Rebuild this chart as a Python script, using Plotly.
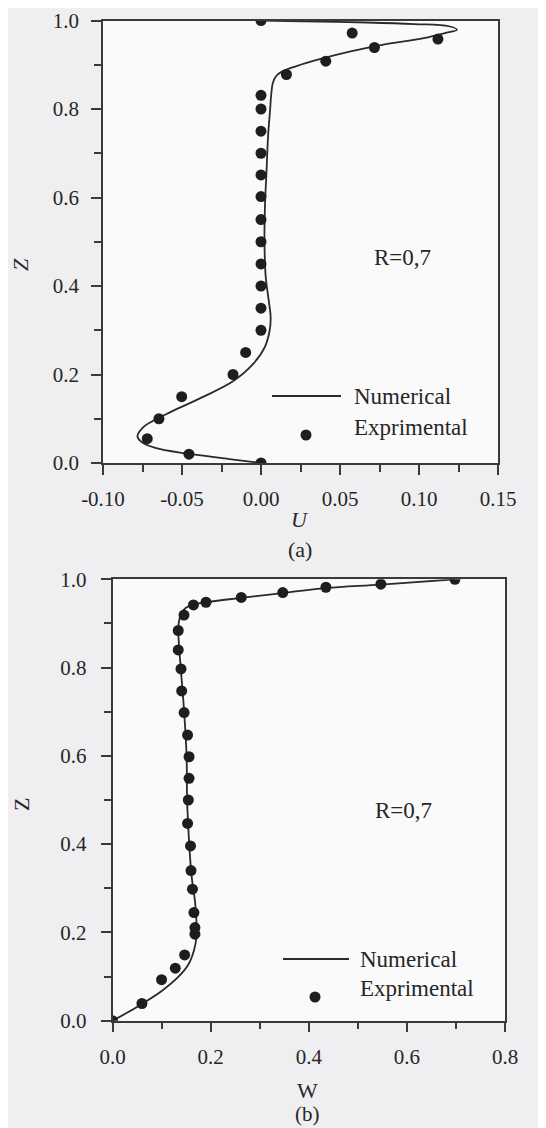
import plotly.graph_objects as go

# ---------------- data: panel (a) ----------------
u_exp = [0.0, 0.0577, 0.112, 0.0718, 0.041, 0.0161, 0.0, 0.0, 0.0, 0.0, 0.0, 0.0,
         0.0, 0.0, 0.0, 0.0, 0.0, 0.0, -0.0097, -0.0177, -0.0502, -0.0646, -0.072, -0.0456, 0.0]
z_u_exp = [1.0, 0.9715, 0.958, 0.939, 0.908, 0.878, 0.831, 0.80, 0.75, 0.70, 0.651, 0.602,
           0.55, 0.50, 0.45, 0.40, 0.35, 0.30, 0.25, 0.20, 0.15, 0.10, 0.055, 0.02, 0.0]

u_num = [0.0, -0.020, -0.0465, -0.0669, -0.0761, -0.0782, -0.0751, -0.069, -0.0567, -0.0363,
         -0.018, -0.0057, 0.0024, 0.0055, 0.0061, 0.0049, 0.0030, 0.0022, 0.0025, 0.0035,
         0.0045, 0.0058, 0.0064, 0.0075, 0.0095, 0.0135, 0.0225, 0.0366, 0.0567, 0.0768,
         0.103, 0.117, 0.124, 0.119, 0.097, 0.067, 0.0265, 0.0]
z_u_num = [0.0, 0.009, 0.021, 0.034, 0.049, 0.061, 0.079, 0.094, 0.116, 0.15,
           0.184, 0.221, 0.262, 0.30, 0.33, 0.367, 0.42, 0.50, 0.58, 0.66,
           0.74, 0.80, 0.83, 0.859, 0.874, 0.885, 0.897, 0.912, 0.93, 0.945,
           0.96, 0.972, 0.979, 0.987, 0.992, 0.9955, 0.998, 1.0]

# ---------------- data: panel (b) ----------------
w_exp = [0.698, 0.547, 0.435, 0.347, 0.2625, 0.1906, 0.165, 0.1457, 0.134, 0.134,
         0.1396, 0.141, 0.146, 0.153, 0.156, 0.156, 0.1545, 0.153, 0.159, 0.160,
         0.163, 0.166, 0.168, 0.168, 0.147, 0.128, 0.100, 0.060, 0.0]
z_w_exp = [1.0, 0.989, 0.982, 0.970, 0.959, 0.948, 0.942, 0.919, 0.884, 0.84,
           0.797, 0.747, 0.698, 0.647, 0.598, 0.549, 0.50, 0.447, 0.396, 0.340,
           0.298, 0.245, 0.211, 0.196, 0.149, 0.119, 0.093, 0.039, 0.0]

w_num = [0.0, 0.025, 0.060, 0.101, 0.133, 0.155, 0.166, 0.171, 0.171, 0.168, 0.162,
         0.157, 0.154, 0.152, 0.151, 0.146, 0.139, 0.135, 0.134, 0.137, 0.146, 0.165,
         0.19, 0.2625, 0.347, 0.435, 0.547, 0.698]
z_w_num = [0.0, 0.015, 0.038, 0.068, 0.098, 0.128, 0.159, 0.189, 0.227, 0.272, 0.32,
           0.387, 0.45, 0.50, 0.60, 0.70, 0.80, 0.86, 0.89, 0.912, 0.932, 0.943,
           0.948, 0.958, 0.969, 0.980, 0.988, 1.0]

legend_labels = ["Numerical", "Exprimental"]
panel_note = "R=0,7"

# the page body adds an 8px offset; size the figure to fill the rest of the window
OFF = 8
W, H = 538, 1120
FONT = "Liberation Serif, Times New Roman, serif"
INK = "#2a2a2a"
AX = "#3a3a3a"
TXT = "#262626"


def fx(px):
    return (px - OFF) / W


def fy(py):
    return 1 - (py - OFF) / H


fig = go.Figure()

fig.add_trace(go.Scatter(x=u_num, y=z_u_num, mode="lines",
                         line=dict(color=INK, width=1.8, shape="spline", smoothing=1.0),
                         xaxis="x", yaxis="y", showlegend=False, hoverinfo="skip"))
fig.add_trace(go.Scatter(x=u_exp, y=z_u_exp, mode="markers", marker=dict(color="#1e1e1e", size=11),
                         xaxis="x", yaxis="y", showlegend=False))
fig.add_trace(go.Scatter(x=w_num, y=z_w_num, mode="lines",
                         line=dict(color=INK, width=1.8, shape="spline", smoothing=1.0),
                         xaxis="x2", yaxis="y2", showlegend=False, hoverinfo="skip"))
fig.add_trace(go.Scatter(x=w_exp, y=z_w_exp, mode="markers", marker=dict(color="#1e1e1e", size=11),
                         xaxis="x2", yaxis="y2", showlegend=False))

axis_common = dict(
    showgrid=False, zeroline=False, showline=True, linecolor=AX, linewidth=1.5,
    mirror=True, ticks="outside", ticklen=10, tickwidth=1.5, tickcolor=AX, automargin=False,
    ticklabeloverflow="allow",
    tickfont=dict(family=FONT, size=21, color=TXT),
)
minor_x1 = dict(dtick=0.025, tick0=-0.1, ticks="outside", ticklen=7, tickwidth=1.5, tickcolor=AX)
minor_01 = dict(dtick=0.1, tick0=0, ticks="outside", ticklen=7, tickwidth=1.5, tickcolor=AX)

fig.update_layout(
    width=W, height=H,
    margin=dict(l=0, r=0, t=0, b=0, pad=0),
    paper_bgcolor="#efeff1",
    plot_bgcolor="#fafafb",
    showlegend=False,
    xaxis=dict(domain=[fx(103), fx(498)], range=[-0.10, 0.15], anchor="y",
               tickvals=[-0.10, -0.05, 0.0, 0.05, 0.10, 0.15],
               ticktext=["-0.10", "-0.05", "0.00", "0.05", "0.10", "0.15"],
               minor=minor_x1, ticklabelstandoff=6, **axis_common),
    yaxis=dict(domain=[fy(463), fy(20.5)], range=[0, 1], anchor="x",
               tickvals=[0, 0.2, 0.4, 0.6, 0.8, 1.0],
               ticktext=["0.0", "0.2", "0.4", "0.6", "0.8", "1.0"],
               minor=minor_01, ticklabelstandoff=8, **axis_common),
    xaxis2=dict(domain=[fx(112.5), fx(505)], range=[0, 0.8], anchor="y2",
                tickvals=[0, 0.2, 0.4, 0.6, 0.8],
                ticktext=["0.0", "0.2", "0.4", "0.6", "0.8"],
                minor=minor_01, ticklabelstandoff=6, **axis_common),
    yaxis2=dict(domain=[fy(1020.7), fy(579.3)], range=[0, 1], anchor="x2",
                tickvals=[0, 0.2, 0.4, 0.6, 0.8, 1.0],
                ticktext=["0.0", "0.2", "0.4", "0.6", "0.8", "1.0"],
                minor=minor_01, ticklabelstandoff=10, **axis_common),
)


def ann(text, px, py, size=22, italic=False, angle=0, xanchor="center"):
    t = f"<i>{text}</i>" if italic else text
    fig.add_annotation(text=t, x=fx(px), y=fy(py), xref="paper", yref="paper",
                       showarrow=False, xanchor=xanchor, yanchor="middle", textangle=angle,
                       font=dict(family=FONT, size=size, color=TXT))


# panel (a) labels
ann("U", 300, 520, italic=True)
ann("(a)", 300, 549)
ann("Z", 21, 265, italic=True, angle=-90)
ann(panel_note, 402, 257, size=23)
# legend (a)
fig.add_shape(type="line", xref="paper", yref="paper", x0=fx(272), x1=fx(341), y0=fy(396), y1=fy(396),
              line=dict(color=INK, width=1.8))
fig.add_shape(type="circle", xref="paper", yref="paper", x0=fx(300.5), x1=fx(311.5), y0=fy(429.5), y1=fy(440.5),
              fillcolor="#1e1e1e", line=dict(color="#1e1e1e", width=0))
ann(legend_labels[0], 352, 396, size=23, xanchor="left")
ann(legend_labels[1], 352, 427, size=23, xanchor="left")

# panel (b) labels
ann("W", 307, 1090)
ann("(b)", 307, 1114, size=21)
ann("Z", 21, 805, angle=-90)
ann(panel_note, 403, 810, size=23)
# legend (b)
fig.add_shape(type="line", xref="paper", yref="paper", x0=fx(283), x1=fx(349), y0=fy(959), y1=fy(959),
              line=dict(color=INK, width=1.8))
fig.add_shape(type="circle", xref="paper", yref="paper", x0=fx(309.5), x1=fx(320.5), y0=fy(991.5), y1=fy(1002.5),
              fillcolor="#1e1e1e", line=dict(color="#1e1e1e", width=0))
ann(legend_labels[0], 358, 959, size=23, xanchor="left")
ann(legend_labels[1], 358, 988, size=23, xanchor="left")

fig.write_html("out.html")
